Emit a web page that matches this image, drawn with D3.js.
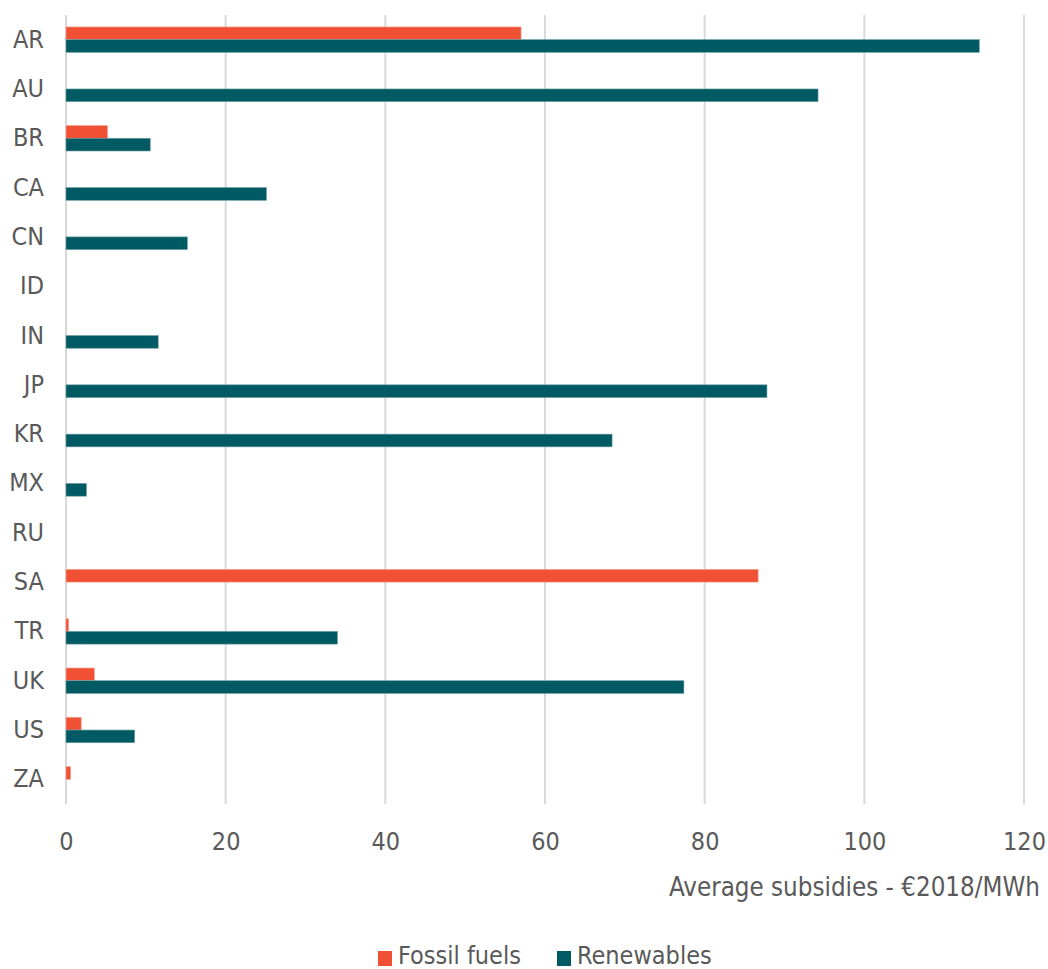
<!DOCTYPE html>
<html><head><meta charset="utf-8">
<script src="https://cdn.jsdelivr.net/npm/d3@7"></script>
<style>
body{margin:0;background:#fff;}
text{font-family:"DejaVu Sans Condensed","DejaVu Sans",sans-serif;fill:#595959;}
</style></head>
<body><svg id="chart" width="1048" height="969"></svg>
<script>
const categories = ["AR","AU","BR","CA","CN","ID","IN","JP","KR","MX","RU","SA","TR","UK","US","ZA"];
const fossilFuels = [57.0,0,5.2,0,0,0,0,0,0,0,0,86.7,0.33,3.55,1.9,0.58];
const renewables = [114.4,94.2,10.55,25.1,15.2,0,11.55,87.8,68.4,2.55,0,0,34.0,77.4,8.6,0];
const seriesNames = ["Fossil fuels","Renewables"];
const colors = ["#F05033","#005A64"];
const xTicks = [0,20,40,60,80,100,120];
const axisTitle = "Average subsidies - €2018/MWh";

(function(){
const svg = d3.select("#chart");
const mLeft = 66, mRight = 1024, mTop = 15, mBottom = 804;
const x = d3.scaleLinear().domain([0,120]).range([mLeft,mRight]);
const y = d3.scaleBand().domain(categories).range([mTop,mBottom]);
const barH = 12.7;
const fontFam = '"DejaVu Sans Condensed","DejaVu Sans",sans-serif';
const fontSize = 25;

svg.append("g").selectAll("line").data(xTicks).join("line")
  .attr("x1",d=>x(d)).attr("x2",d=>x(d)).attr("y1",mTop).attr("y2",mBottom)
  .attr("stroke","#D9D9D9").attr("stroke-width",2);

const rows = categories.map((c,i)=>({c, f:fossilFuels[i], r:renewables[i]}));

svg.append("g").selectAll("rect").data(rows.filter(d=>d.f>0)).join("rect")
  .attr("x",x(0)).attr("width",d=>x(d.f)-x(0))
  .attr("y",d=>y(d.c)+y.bandwidth()/2-barH).attr("height",barH)
  .attr("fill",colors[0]).attr("stroke","#F7A090").attr("stroke-width",0.6);
svg.append("g").selectAll("rect").data(rows.filter(d=>d.r>0)).join("rect")
  .attr("x",x(0)).attr("width",d=>x(d.r)-x(0))
  .attr("y",d=>y(d.c)+y.bandwidth()/2).attr("height",barH)
  .attr("fill",colors[1]).attr("stroke","#6A9CA2").attr("stroke-width",0.6);

const yAxis = d3.axisLeft(y).tickSize(0).tickPadding(0);
const yg = svg.append("g").attr("transform",`translate(${mLeft-22},0)`).call(yAxis);
yg.select(".domain").remove();
yg.selectAll("text").style("font-size",fontSize+"px").attr("fill","#595959").style("font-family",fontFam);

const xAxis = d3.axisBottom(x).tickValues(xTicks).tickSize(0).tickPadding(0);
const xg = svg.append("g").attr("transform",`translate(0,${mBottom+28})`).call(xAxis);
xg.select(".domain").remove();
xg.selectAll("text").style("font-size",fontSize+"px").attr("fill","#595959").style("font-family",fontFam);

svg.append("text").attr("x",1040).attr("y",896).attr("text-anchor","end")
  .style("font-size",(fontSize+0.7)+"px").text(axisTitle);

const legend = svg.append("g");
const legX = [378,557];
seriesNames.forEach((n,i)=>{
  legend.append("rect").attr("x",legX[i]).attr("y",951).attr("width",14).attr("height",15).attr("fill",colors[i]);
  legend.append("text").attr("x",legX[i]+20).attr("y",964).style("font-size",fontSize+"px").text(n);
});
})();
</script></body></html>
